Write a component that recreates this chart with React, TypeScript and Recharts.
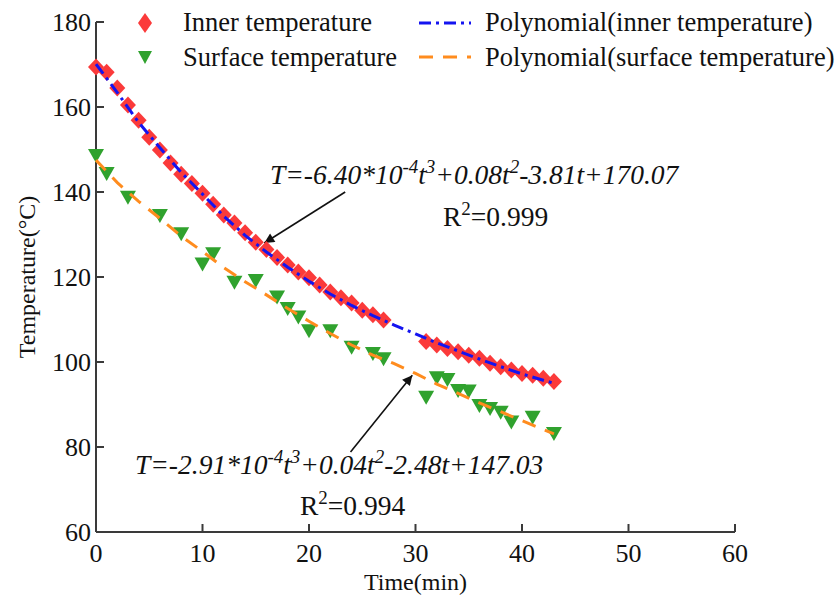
import { ComposedChart, Scatter, XAxis, YAxis, ReferenceLine } from 'recharts';

const innerTime = [0, 1, 2, 3, 4, 5, 6, 7, 8, 9, 10, 11, 12, 13, 14, 15, 16, 17, 18, 19, 20, 21, 22, 23, 24, 25, 26, 27,
  31, 32, 33, 34, 35, 36, 37, 38, 39, 40, 41, 42, 43];
const innerTemp = [169.4, 168.2, 164.5, 160.5, 156.9, 152.9, 149.9, 146.8, 144.2, 142.0, 139.7, 137.1, 134.6, 132.7,
  130.4, 128.2, 126.5, 124.6, 122.8, 121.2, 119.8, 118.1, 116.5, 115.1, 113.9, 112.2, 111.1, 109.9,
  104.8, 104.0, 103.2, 102.4, 101.6, 100.9, 99.7, 98.9, 98.1, 97.3, 96.9, 96.2, 95.4];

const surfaceTime = [0, 1, 3, 6, 8, 10, 11, 13, 15, 17, 18, 19, 20, 22, 24, 26, 27, 31, 32, 33, 34, 35, 36, 37, 38, 39, 41, 43];
const surfaceTemp = [148.7, 144.5, 138.9, 134.6, 130.3, 123.2, 125.6, 118.9, 119.3, 115.4, 112.7, 110.7, 107.5, 107.5,
  103.6, 102.1, 100.9, 91.8, 96.4, 96.0, 93.4, 93.3, 89.9, 89.2, 88.3, 86.0, 87.1, 83.3];

// fitted curves
const fitTime = [0, 2, 4, 6, 8, 10, 12, 14, 16, 18, 20, 22, 24, 26, 28, 30, 32, 34, 36, 38, 40, 42, 43];
const innerFit = [170.1, 163.4, 156.4, 150.4, 144.6, 139.5, 134.3, 129.8, 125.9, 122.3, 119.0, 116.0, 113.3, 110.9,
  108.7, 106.6, 104.5, 102.6, 100.7, 98.9, 97.2, 95.7, 95.0];
const surfaceFit = [147.5, 142.2, 137.8, 133.8, 129.6, 126.0, 122.2, 118.9, 115.8, 112.6, 109.6, 106.7, 104.0, 101.6,
  99.6, 97.3, 94.8, 92.6, 90.4, 88.3, 86.2, 84.1, 83.1];

const xTicks = [0, 10, 20, 30, 40, 50, 60];
const yTicks = [60, 80, 100, 120, 140, 160, 180];

const innerData = innerTime.map((t, i) => ({ t, v: innerTemp[i] }));
const surfaceData = surfaceTime.map((t, i) => ({ t, v: surfaceTemp[i] }));
const innerFitData = fitTime.map((t, i) => ({ t, v: innerFit[i] }));
const surfaceFitData = fitTime.map((t, i) => ({ t, v: surfaceFit[i] }));

const W = 839;
const H = 601;
const Y_AXIS_W = 96;
const X_AXIS_H = 60;
const M = { top: 22, right: 104, left: 0, bottom: 9 };
const PLOT_LEFT = M.left + Y_AXIS_W;
const PLOT_BOTTOM = H - M.bottom - X_AXIS_H;

const FONT = '"Liberation Serif", "Times New Roman", serif';
const AXIS = '#3a3a3a';
const RED = '#fb3a3a';
const GREEN = '#30a22e';
const BLUE = '#1414f0';
const ORANGE = '#ff8c1e';

const Diamond = (p: any) => (
  <polygon
    points={`${p.cx},${p.cy - 8.5} ${p.cx + 8},${p.cy} ${p.cx},${p.cy + 8.5} ${p.cx - 8},${p.cy}`}
    fill={RED}
  />
);

const Triangle = (p: any) => (
  <polygon points={`${p.cx - 8},${p.cy - 6} ${p.cx + 8},${p.cy - 6} ${p.cx},${p.cy + 8}`} fill={GREEN} />
);

// fitted curves are drawn as a scatter line without markers so they sit above the points
const NoMark = () => <g />;

const YTick = (p: any) => (
  <g>
    <line x1={PLOT_LEFT} x2={PLOT_LEFT + 8} y1={p.y} y2={p.y} stroke={AXIS} strokeWidth={2} />
    <text x={PLOT_LEFT - 5} y={p.y + 9} textAnchor="end" fontSize={26} fontFamily={FONT} fill="#111">
      {p.payload.value}
    </text>
  </g>
);

const XTick = (p: any) => (
  <g>
    <line x1={p.x} x2={p.x} y1={PLOT_BOTTOM} y2={PLOT_BOTTOM - 8} stroke={AXIS} strokeWidth={2} />
    <text x={p.x} y={PLOT_BOTTOM + 30} textAnchor="middle" fontSize={26} fontFamily={FONT} fill="#111">
      {p.payload.value}
    </text>
  </g>
);

function Overlay() {
  const legendText = { fontSize: 26.5, fontFamily: FONT, fill: '#111' } as const;
  const eq = { fontSize: 27.5, fontFamily: FONT, fontStyle: 'italic', fill: '#111' } as const;
  const sup = 19;
  return (
    <svg width={W} height={H} style={{ position: 'absolute', left: 0, top: 0, pointerEvents: 'none' }}>
      <defs>
        <marker id="arrowHead" viewBox="0 0 10 10" refX="10" refY="5" markerWidth="15" markerHeight="10"
          markerUnits="userSpaceOnUse" orient="auto">
          <path d="M0,0 L10,5 L0,10 z" fill="#111" />
        </marker>
      </defs>
      {/* legend */}
      <polygon points="145,13 152,23 145,33 138,23" fill={RED} />
      <text x={183} y={31} {...legendText}>Inner temperature</text>
      <line x1={419} x2={471} y1={23} y2={23} stroke={BLUE} strokeWidth={3} strokeDasharray="12 5 3 5" />
      <text x={485} y={31} {...legendText}>Polynomial(inner temperature)</text>
      <polygon points="138,51 152,51 145,64" fill={GREEN} />
      <text x={183} y={66} {...legendText}>Surface temperature</text>
      <line x1={419} x2={471} y1={57} y2={57} stroke={ORANGE} strokeWidth={3} strokeDasharray="14 10" />
      <text x={485} y={66} {...legendText}>Polynomial(surface temperature)</text>

      {/* fitted equations */}
      <text x={270} y={184} {...eq}>
        T=-6.40*10<tspan dy={-11} fontSize={sup}>-4</tspan>
        <tspan dy={11}>t</tspan>
        <tspan dy={-11} fontSize={sup}>3</tspan>
        <tspan dy={11}>+0.08t</tspan>
        <tspan dy={-11} fontSize={sup}>2</tspan>
        <tspan dy={11}>-3.81t+170.07</tspan>
      </text>
      <text x={443} y={226} fontSize={27.5} fontFamily={FONT} fill="#111">
        R<tspan dy={-11} fontSize={sup}>2</tspan>
        <tspan dy={11}>=0.999</tspan>
      </text>
      <text x={135} y={474} {...eq}>
        T=-2.91*10<tspan dy={-11} fontSize={sup}>-4</tspan>
        <tspan dy={11}>t</tspan>
        <tspan dy={-11} fontSize={sup}>3</tspan>
        <tspan dy={11}>+0.04t</tspan>
        <tspan dy={-11} fontSize={sup}>2</tspan>
        <tspan dy={11}>-2.48t+147.03</tspan>
      </text>
      <text x={300} y={515} fontSize={27.5} fontFamily={FONT} fill="#111">
        R<tspan dy={-11} fontSize={sup}>2</tspan>
        <tspan dy={11}>=0.994</tspan>
      </text>
    </svg>
  );
}

export default function App() {
  return (
    <div style={{ position: 'absolute', left: 0, top: 0, width: W, height: H, background: '#fff', fontFamily: FONT }}>
      <ComposedChart width={W} height={H} margin={M}>
        <XAxis
          dataKey="t"
          type="number"
          domain={[0, 60]}
          ticks={xTicks}
          height={X_AXIS_H}
          stroke={AXIS}
          strokeWidth={2}
          tickLine={false}
          tick={<XTick />}
          interval={0}
          label={{ value: 'Time(min)', position: 'insideBottom', offset: 2, fontSize: 24, fill: '#111', fontFamily: FONT }}
        />
        <YAxis
          dataKey="v"
          type="number"
          domain={[60, 180]}
          ticks={yTicks}
          width={Y_AXIS_W}
          stroke={AXIS}
          strokeWidth={2}
          tickLine={false}
          tick={<YTick />}
          interval={0}
          label={{ value: 'Temperature(°C)', angle: -90, position: 'insideLeft', offset: 26, fontSize: 24, fill: '#111', fontFamily: FONT, style: { textAnchor: 'middle' } }}
        />
        <Scatter name="Inner temperature" data={innerData} dataKey="v" shape={<Diamond />} isAnimationActive={false} />
        <Scatter name="Surface temperature" data={surfaceData} dataKey="v" shape={<Triangle />} isAnimationActive={false} />
        <Scatter name="Polynomial(inner temperature)" data={innerFitData} dataKey="v" shape={<NoMark />}
          line={{ stroke: BLUE, strokeWidth: 3, strokeDasharray: '12 5 3 5' }} lineType="joint"
          isAnimationActive={false} />
        <Scatter name="Polynomial(surface temperature)" data={surfaceFitData} dataKey="v" shape={<NoMark />}
          line={{ stroke: ORANGE, strokeWidth: 3, strokeDasharray: '14 10' }} lineType="joint"
          isAnimationActive={false} />
        <ReferenceLine segment={[{ x: 23.4, y: 140 }, { x: 15.8, y: 128 }]} stroke="#111" strokeWidth={1.6}
          markerEnd="url(#arrowHead)" />
        <ReferenceLine segment={[{ x: 23.9, y: 78.8 }, { x: 29.7, y: 96.9 }]} stroke="#111" strokeWidth={1.6}
          markerEnd="url(#arrowHead)" />
      </ComposedChart>
      <Overlay />
    </div>
  );
}
